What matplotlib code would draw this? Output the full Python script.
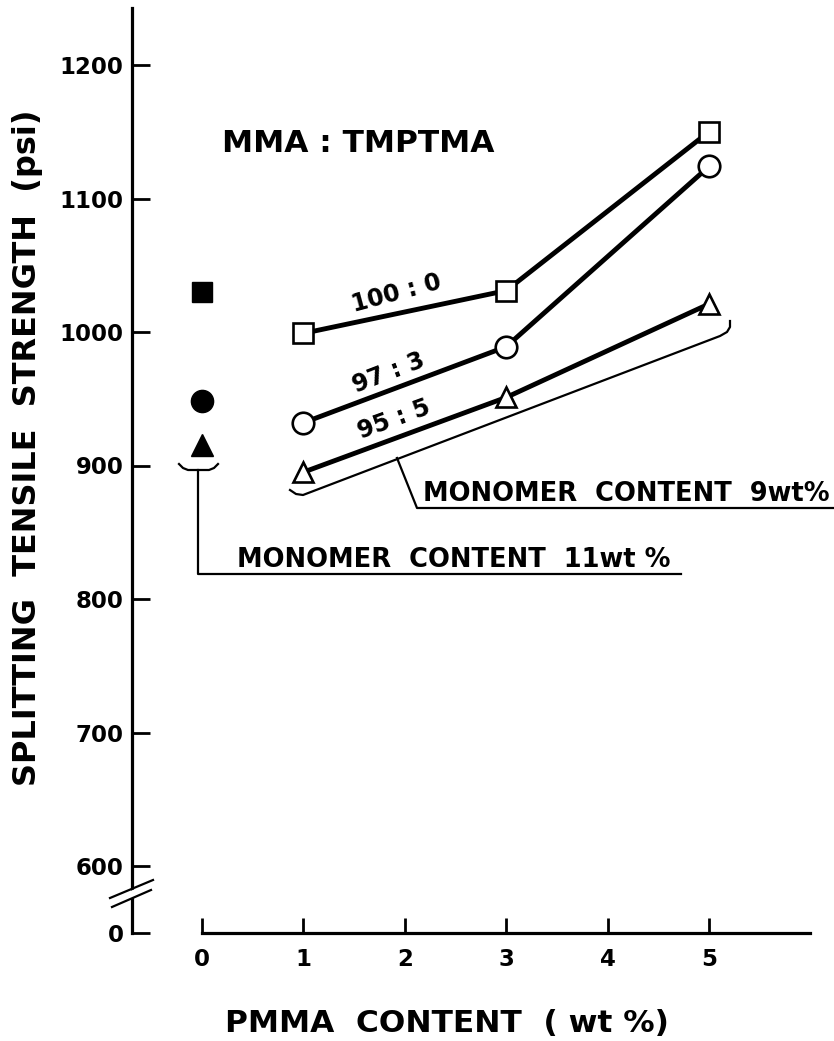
import matplotlib
matplotlib.use("Agg")
import matplotlib.pyplot as plt
from matplotlib.patches import Polygon

# ---- data ----
pmma = [1, 3, 5]
ratio_100_0 = [999, 1031, 1150]
ratio_97_3 = [932, 989, 1124]
ratio_95_5 = [895, 951, 1021]
pmma_zero = [0]
zero_100_0 = [1030]
zero_97_3 = [948]
zero_95_5 = [915]
x_ticks = [0, 1, 2, 3, 4, 5]
y_ticks = [600, 700, 800, 900, 1000, 1100, 1200]
series_labels = ["100 : 0", "97 : 3", "95 : 5"]

W, H = 834, 1041
fig = plt.figure(figsize=(W / 100, H / 100), dpi=100)
plt.rcParams['font.family'] = ['DejaVu Sans']

# axes geometry (pixels)
L, R, T, B = 132, 810, 8, 933
ax = fig.add_axes([L / W, 1 - B / H, (R - L) / W, (B - T) / H])
X0PX, XSCALE = 202, 101.4
Y1200PX, YSCALE = 65, 1.335


def px2x(px):
    return (px - X0PX) / XSCALE


def px2y(py):
    return 1200 - (py - Y1200PX) / YSCALE


ymin = px2y(B)
ax.set_xlim(px2x(L), px2x(R))
ax.set_ylim(ymin, px2y(T))

for s in ["top", "right"]:
    ax.spines[s].set_visible(False)
ax.spines["left"].set_linewidth(2.3)
ax.spines["bottom"].set_linewidth(2.3)
ax.spines["bottom"].set_bounds(0, px2x(R))

ax.set_xticks(x_ticks)
ax.set_xticklabels([str(v) for v in x_ticks])
ax.set_yticks([ymin] + y_ticks)
ax.set_yticklabels(["0"] + [str(v) for v in y_ticks])
ax.tick_params(axis="x", direction="in", length=11, width=2.0, pad=11,
               labelsize=16.5)
ax.tick_params(axis="y", direction="in", length=13, width=2.0, pad=6,
               labelsize=16.5)
for lab in ax.get_xticklabels() + ax.get_yticklabels():
    lab.set_fontweight("bold")

lw = 3.5
mew = 1.9
ax.plot(pmma, ratio_100_0, color="black", lw=lw, marker="s", ms=14,
        mfc="white", mec="black", mew=mew, zorder=3)
ax.plot(pmma, ratio_97_3, color="black", lw=lw, marker="o", ms=15.5,
        mfc="white", mec="black", mew=mew, zorder=3)
ax.plot(pmma, ratio_95_5, color="black", lw=lw, marker="^", ms=15,
        mfc="white", mec="black", mew=mew, zorder=3)
ax.plot(pmma_zero, zero_100_0, ls="none", marker="s", ms=14, color="black")
ax.plot(pmma_zero, zero_97_3, ls="none", marker="o", ms=16, color="black")
ax.plot(pmma_zero, zero_95_5, ls="none", marker="^", ms=16, color="black")

# series labels
ax.text(px2x(397), px2y(293), series_labels[0], rotation=15, ha="center",
        va="center", fontsize=17, fontweight="bold")
ax.text(px2x(389), px2y(373), series_labels[1], rotation=21, ha="center",
        va="center", fontsize=17, fontweight="bold")
ax.text(px2x(394), px2y(420), series_labels[2], rotation=20, ha="center",
        va="center", fontsize=17, fontweight="bold")

ax.text(px2x(222), px2y(143), "MMA : TMPTMA", ha="left", va="center",
        fontsize=22.5, fontweight="bold")

# annotation: monomer content 11 wt %
alw = 1.6
bx = [px2x(v) for v in [179, 183, 188, 209, 214, 218]]
by = [px2y(v) for v in [464, 468, 470, 470, 468, 464]]
ax.plot(bx, by, color="black", lw=alw, clip_on=False)
ax.plot([px2x(198), px2x(198), px2x(681)],
        [px2y(470), px2y(574), px2y(574)], color="black", lw=alw,
        clip_on=False)
ax.text(px2x(237), px2y(567), "MONOMER  CONTENT  11wt %", ha="left",
        va="baseline", fontsize=18.5, fontweight="bold")

# annotation: monomer content 9 wt %
rx = [px2x(v) for v in [290, 296, 303, 720, 727, 730, 730]]
ry = [px2y(v) for v in [490, 494, 495, 336, 332, 327, 321]]
ax.plot(rx, ry, color="black", lw=alw, clip_on=False)
ax.plot([px2x(397), px2x(417), px2x(834)],
        [px2y(458), px2y(508), px2y(508)], color="black", lw=alw,
        clip_on=False)
ax.text(px2x(423), px2y(501), "MONOMER  CONTENT  9wt%", ha="left",
        va="baseline", fontsize=18.5, fontweight="bold", clip_on=False)

# axis break marks
gap = Polygon([(px2x(110), px2y(899)), (px2x(153), px2y(882)),
               (px2x(153), px2y(890)), (px2x(110), px2y(907))],
              closed=True, facecolor="white", edgecolor="none",
              clip_on=False, zorder=5)
ax.add_patch(gap)
ax.plot([px2x(110), px2x(153)], [px2y(898), px2y(880)], color="black",
        lw=1.6, clip_on=False, zorder=6)
ax.plot([px2x(112), px2x(151)], [px2y(907), px2y(890)], color="black",
        lw=1.6, clip_on=False, zorder=6)

# axis titles
fig.text(28 / W, 1 - 448 / H, "SPLITTING  TENSILE  STRENGTH  (psi)",
         rotation=90, ha="center", va="center", fontsize=23,
         fontweight="bold")
fig.text(447 / W, 1 - 1023 / H, "PMMA  CONTENT  ( wt %)", ha="center",
         va="center", fontsize=22.5, fontweight="bold")

fig.savefig("out.png", dpi=100)
